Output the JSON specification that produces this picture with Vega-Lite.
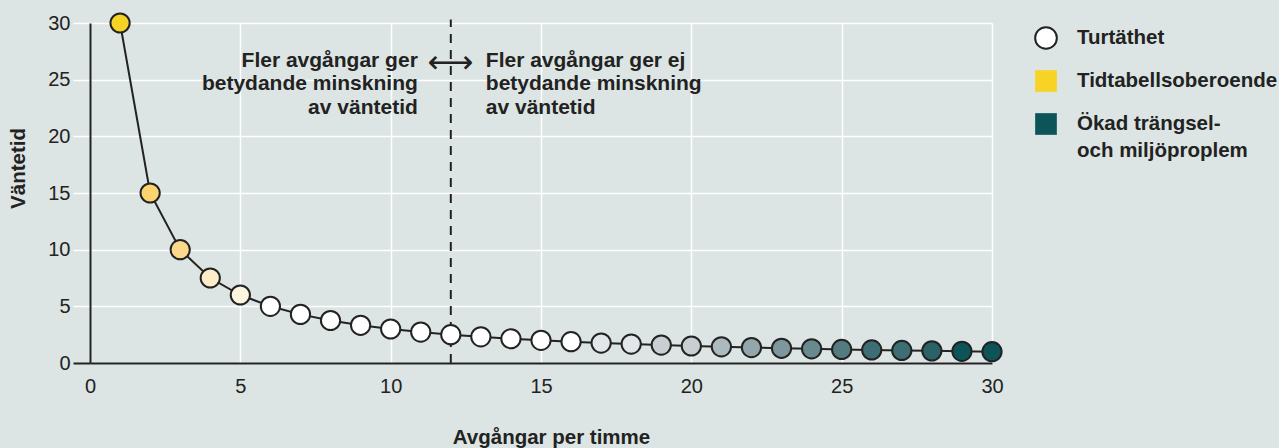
{
  "$schema": "https://vega.github.io/schema/vega-lite/v6.json",
  "width": 902,
  "height": 340,
  "autosize": "none",
  "padding": {"left": 90, "top": 23, "right": 287, "bottom": 85},
  "background": "#dce5e3",
  "config": {
    "view": {"stroke": null},
    "font": "Liberation Sans",
    "style": {"guide-label": {"lineHeight": 27}}
  },
  "datasets": {
    "kurva": [
      {"avgangar": 1, "vantetid": 30, "steg": 1},
      {"avgangar": 2, "vantetid": 15, "steg": 2},
      {"avgangar": 3, "vantetid": 10, "steg": 3},
      {"avgangar": 4, "vantetid": 7.5, "steg": 4},
      {"avgangar": 5, "vantetid": 6, "steg": 5},
      {"avgangar": 6, "vantetid": 5, "steg": 6},
      {"avgangar": 7, "vantetid": 4.29, "steg": 6},
      {"avgangar": 8, "vantetid": 3.75, "steg": 6},
      {"avgangar": 9, "vantetid": 3.33, "steg": 6},
      {"avgangar": 10, "vantetid": 3, "steg": 6},
      {"avgangar": 11, "vantetid": 2.73, "steg": 6},
      {"avgangar": 12, "vantetid": 2.5, "steg": 6},
      {"avgangar": 13, "vantetid": 2.31, "steg": 6},
      {"avgangar": 14, "vantetid": 2.14, "steg": 6},
      {"avgangar": 15, "vantetid": 2, "steg": 6},
      {"avgangar": 16, "vantetid": 1.88, "steg": 6},
      {"avgangar": 17, "vantetid": 1.76, "steg": 7},
      {"avgangar": 18, "vantetid": 1.67, "steg": 7},
      {"avgangar": 19, "vantetid": 1.58, "steg": 8},
      {"avgangar": 20, "vantetid": 1.5, "steg": 8},
      {"avgangar": 21, "vantetid": 1.43, "steg": 9},
      {"avgangar": 22, "vantetid": 1.36, "steg": 10},
      {"avgangar": 23, "vantetid": 1.3, "steg": 11},
      {"avgangar": 24, "vantetid": 1.25, "steg": 12},
      {"avgangar": 25, "vantetid": 1.2, "steg": 13},
      {"avgangar": 26, "vantetid": 1.15, "steg": 14},
      {"avgangar": 27, "vantetid": 1.11, "steg": 14},
      {"avgangar": 28, "vantetid": 1.07, "steg": 15},
      {"avgangar": 29, "vantetid": 1.03, "steg": 16},
      {"avgangar": 30, "vantetid": 1.0, "steg": 16}
    ],
    "forklaring": [
      {"kategori": "Turtäthet"},
      {"kategori": "Tidtabellsoberoende"},
      {"kategori": "Ökad trängsel- och miljöproplem"}
    ]
  },
  "encoding": {
    "x": {
      "field": "avgangar",
      "type": "quantitative",
      "scale": {"domain": [0, 30], "nice": false, "zero": false},
      "axis": {
        "title": "Avgångar per timme",
        "values": [0, 5, 10, 15, 20, 25, 30],
        "grid": true,
        "gridColor": "white",
        "gridWidth": 1.5,
        "ticks": false,
        "tickSize": 0,
        "domainColor": "#222222",
        "domainWidth": 2,
        "labelFlush": false,
        "labelPadding": 13,
        "labelFont": "Liberation Sans",
        "labelFontSize": 20,
        "labelColor": "#222222",
        "titleFont": "Liberation Sans",
        "titleFontSize": 20.5,
        "titleFontWeight": "bold",
        "titleColor": "#222222",
        "titleAlign": "center",
        "titleX": 461,
        "titleY": 80,
        "titleBaseline": "alphabetic"
      }
    },
    "y": {
      "field": "vantetid",
      "type": "quantitative",
      "scale": {"domain": [0, 30], "nice": false},
      "axis": {
        "title": "Väntetid",
        "values": [0, 5, 10, 15, 20, 25, 30],
        "grid": true,
        "gridColor": "white",
        "gridWidth": 1.5,
        "ticks": true,
        "tickSize": 17,
        "tickColor": {"condition": {"test": "datum.value === 0", "value": "#222222"}, "value": "white"},
        "tickWidth": {"condition": {"test": "datum.value === 0", "value": 2}, "value": 1.5},
        "domainColor": "#222222",
        "domainWidth": 2,
        "labelFlush": false,
        "labelPadding": 3,
        "labelFont": "Liberation Sans",
        "labelFontSize": 20,
        "labelColor": "#222222",
        "titleFont": "Liberation Sans",
        "titleFontSize": 20.5,
        "titleFontWeight": "bold",
        "titleColor": "#222222",
        "titleAngle": -90,
        "titleAlign": "center",
        "titleBaseline": "middle",
        "titleX": -72,
        "titleY": 145
      }
    }
  },
  "layer": [
    {
      "data": {"values": [{"avgangar": 12, "vantetid": 0, "vantetid_topp": 30.3}]},
      "mark": {"type": "rule", "color": "#222222", "strokeWidth": 2, "strokeDash": [9, 7]},
      "encoding": {"y2": {"field": "vantetid_topp"}}
    },
    {
      "data": {"name": "kurva"},
      "mark": {"type": "line", "color": "#222222", "strokeWidth": 2},
      "encoding": {}
    },
    {
      "data": {"name": "kurva"},
      "mark": {"type": "point", "filled": true, "shape": "circle", "size": 370, "stroke": "#222222", "strokeWidth": 2, "opacity": 1},
      "encoding": {
        "fill": {
          "field": "steg",
          "type": "ordinal",
          "scale": {
            "domain": [1, 2, 3, 4, 5, 6, 7, 8, 9, 10, 11, 12, 13, 14, 15, 16],
            "range": ["#f6d325", "#fcd36e", "#fcd98a", "#fdecc8", "#fdf5e0", "#ffffff", "#e3e6e8", "#c7cfd2", "#abbabe", "#92a6ab", "#7e979c", "#68898e", "#537b80", "#3d6e73", "#2a6267", "#0c5457"]
          },
          "legend": null
        }
      }
    },
    {
      "data": {"values": [{"avgangar": 12, "vantetid": 26.14, "rader": ["Fler avgångar ger", "betydande minskning", "av väntetid"]}]},
      "mark": {"type": "text", "align": "right", "baseline": "alphabetic", "dx": -33, "font": "Liberation Sans", "fontSize": 21, "fontWeight": "bold", "color": "#222222", "lineHeight": 23.5},
      "encoding": {"text": {"field": "rader", "type": "nominal"}}
    },
    {
      "data": {"values": [{"avgangar": 12, "vantetid": 26.14, "rader": ["Fler avgångar ger ej", "betydande minskning", "av väntetid"]}]},
      "mark": {"type": "text", "align": "left", "baseline": "alphabetic", "dx": 35, "font": "Liberation Sans", "fontSize": 21, "fontWeight": "bold", "color": "#222222", "lineHeight": 23.5},
      "encoding": {"text": {"field": "rader", "type": "nominal"}}
    },
    {
      "data": {"values": [{"avgangar": 12, "vantetid": 26.45, "tecken": "⟷"}]},
      "mark": {"type": "text", "align": "center", "baseline": "middle", "font": "DejaVu Sans", "fontSize": 32, "color": "#222222"},
      "encoding": {"text": {"field": "tecken", "type": "nominal"}}
    },
    {
      "data": {"name": "forklaring"},
      "mark": {"type": "point", "filled": true, "opacity": 0},
      "encoding": {
        "x": {"value": 0},
        "y": {"value": 0},
        "color": {
          "field": "kategori",
          "type": "nominal",
          "scale": {"domain": ["Turtäthet", "Tidtabellsoberoende", "Ökad trängsel- och miljöproplem"], "range": ["#ffffff", "#f6d325", "#0c5457"]},
          "legend": {
            "title": null,
            "orient": "none",
            "legendX": 944,
            "legendY": 3,
            "padding": 0,
            "labelFont": "Liberation Sans",
            "labelFontSize": 20.5,
            "labelFontWeight": "bold",
            "labelColor": "#222222",
            "labelLimit": 400,
            "labelBaseline": "middle",
            "labelOffset": 19,
            "symbolSize": 470,
            "symbolStrokeWidth": 2,
            "symbolOpacity": 1,
            "rowPadding": 13,
            "labelExpr": "datum.label == 'Ökad trängsel- och miljöproplem' ? ['Ökad trängsel-', 'och miljöproplem'] : datum.label",
            "encode": {
              "symbols": {
                "update": {
                  "fill": {"scale": "color", "field": "value"},
                  "stroke": {"signal": "datum.value === 'Turtäthet' ? '#222222' : 'transparent'"},
                  "strokeWidth": {"value": 2},
                  "opacity": {"value": 1},
                  "fillOpacity": {"value": 1}
                }
              }
            }
          }
        },
        "shape": {
          "field": "kategori",
          "type": "nominal",
          "scale": {"domain": ["Turtäthet", "Tidtabellsoberoende", "Ökad trängsel- och miljöproplem"], "range": ["circle", "square", "square"]}
        }
      }
    }
  ]
}
